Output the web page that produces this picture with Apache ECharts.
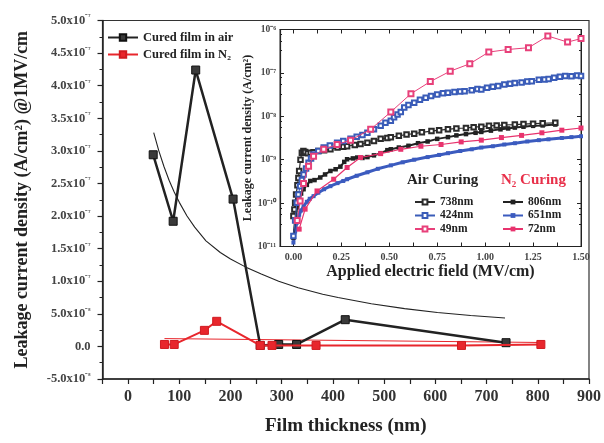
<!DOCTYPE html>
<html><head><meta charset="utf-8">
<script src="https://cdn.jsdelivr.net/npm/echarts@6/dist/echarts.min.js"></script>
<style>html,body{margin:0;padding:0;background:#fff}#c{width:604px;height:443px}</style>
</head><body><div id="c"></div>
<script>
// ---- main chart data (leakage @1MV/cm vs film thickness) ----
const airThickness = [49, 88, 132, 205, 258, 294, 329, 424, 738];
const airLeakage   = [2.94e-7, 1.92e-7, 4.24e-7, 2.26e-7, 0.15e-8, 0.3e-8, 0.3e-8, 4.1e-8, 0.57e-8];
const n2Thickness  = [71, 90, 149, 173, 258, 281, 367, 651, 806];
const n2Leakage    = [0.3e-8, 0.3e-8, 2.46e-8, 3.85e-8, 0.15e-8, 0.15e-8, 0.15e-8, 0.15e-8, 0.3e-8];
const airFitThickness = [50, 60, 70, 80, 90, 100, 115, 130, 152, 180, 200, 229, 260, 294, 332, 380, 410, 475, 540, 604, 669, 736];
const airFitLeakage   = [3.28e-7, 3.0e-7, 2.76e-7, 2.55e-7, 2.37e-7, 2.21e-7, 2.0e-7, 1.83e-7, 1.62e-7, 1.44e-7, 1.34e-7, 1.22e-7, 1.11e-7, 1.0e-7, 0.9e-7, 0.8e-7, 0.75e-7, 0.655e-7, 0.58e-7, 0.52e-7, 0.475e-7, 0.435e-7];
const n2FitThickness = [71, 806];
const n2FitLeakage   = [1.2e-8, 0.6e-8];
const mainXTicks = [0, 100, 200, 300, 400, 500, 600, 700, 800, 900];

// ---- inset data: applied field (MV/cm) and log10 of leakage (A/cm2) ----
const f738 = [0,0.005,0.009,0.014,0.021,0.026,0.03,0.037,0.044,0.052,0.061,0.075,0.09,0.105,0.13,0.16,0.193,0.23,0.26,0.28,0.32,0.35,0.386,0.42,0.455,0.49,0.508,0.55,0.59,0.63,0.67,0.72,0.76,0.806,0.85,0.9,0.94,0.98,1.02,1.06,1.1,1.155,1.2,1.25,1.3,1.366];
const lg738 = [-10.3,-10.15,-9.99,-9.8,-9.59,-9.42,-9.26,-9.0,-8.84,-8.8,-8.82,-8.85,-8.84,-8.83,-8.8,-8.78,-8.76,-8.72,-8.7,-8.69,-8.66,-8.64,-8.61,-8.57,-8.52,-8.5,-8.48,-8.45,-8.42,-8.4,-8.37,-8.34,-8.32,-8.3,-8.28,-8.27,-8.25,-8.24,-8.22,-8.21,-8.2,-8.19,-8.18,-8.17,-8.16,-8.15];
const f424 = [0,0.009,0.018,0.026,0.035,0.044,0.053,0.066,0.079,0.092,0.105,0.13,0.158,0.19,0.228,0.26,0.298,0.33,0.36,0.386,0.42,0.455,0.48,0.508,0.525,0.543,0.56,0.578,0.6,0.63,0.66,0.69,0.718,0.75,0.78,0.806,0.84,0.87,0.893,0.93,0.96,0.98,1.01,1.04,1.068,1.1,1.13,1.155,1.19,1.22,1.243,1.28,1.31,1.331,1.36,1.39,1.418,1.45,1.48,1.5];
const lg424 = [-10.76,-10.4,-9.99,-9.8,-9.61,-9.47,-9.34,-9.2,-9.07,-8.97,-8.88,-8.8,-8.72,-8.67,-8.61,-8.57,-8.52,-8.47,-8.43,-8.38,-8.3,-8.22,-8.15,-8.1,-8.02,-7.96,-7.9,-7.8,-7.74,-7.69,-7.62,-7.57,-7.53,-7.5,-7.47,-7.46,-7.44,-7.43,-7.42,-7.4,-7.37,-7.38,-7.34,-7.32,-7.3,-7.27,-7.25,-7.23,-7.22,-7.2,-7.19,-7.16,-7.15,-7.14,-7.11,-7.09,-7.07,-7.08,-7.06,-7.07];
const f49 = [0.02,0.035,0.053,0.079,0.105,0.158,0.228,0.298,0.403,0.508,0.613,0.714,0.818,0.92,1.019,1.12,1.226,1.327,1.43,1.5];
const lg49 = [-10.4,-9.95,-9.55,-9.15,-8.92,-8.76,-8.65,-8.55,-8.3,-7.9,-7.48,-7.2,-6.96,-6.79,-6.52,-6.46,-6.42,-6.15,-6.29,-6.21];
const f806 = [0,0.009,0.018,0.026,0.04,0.053,0.07,0.088,0.11,0.14,0.165,0.193,0.22,0.245,0.265,0.28,0.31,0.333,0.36,0.386,0.42,0.455,0.49,0.508,0.55,0.6,0.65,0.7,0.75,0.806,0.85,0.9,0.95,0.98,1.03,1.08,1.12,1.155,1.2,1.25,1.3,1.366];
const lg806 = [-10.8,-10.37,-10.1,-9.91,-9.78,-9.68,-9.58,-9.49,-9.47,-9.41,-9.34,-9.26,-9.22,-9.16,-9.05,-8.99,-8.97,-8.95,-8.96,-8.94,-8.9,-8.85,-8.78,-8.76,-8.72,-8.68,-8.62,-8.58,-8.52,-8.48,-8.44,-8.41,-8.38,-8.36,-8.33,-8.3,-8.28,-8.26,-8.24,-8.22,-8.21,-8.19];
const f651 = [0,0.009,0.018,0.03,0.04,0.053,0.07,0.085,0.105,0.13,0.16,0.193,0.23,0.26,0.28,0.33,0.386,0.44,0.508,0.57,0.63,0.7,0.76,0.806,0.87,0.93,0.98,1.04,1.1,1.155,1.22,1.28,1.33,1.4,1.45,1.5];
const lg651 = [-10.91,-10.65,-10.45,-10.27,-10.17,-10.07,-9.97,-9.9,-9.84,-9.76,-9.68,-9.61,-9.54,-9.49,-9.45,-9.37,-9.29,-9.21,-9.13,-9.06,-9.0,-8.94,-8.89,-8.85,-8.8,-8.76,-8.72,-8.69,-8.65,-8.62,-8.58,-8.55,-8.53,-8.5,-8.48,-8.46];
const f72 = [0.03,0.061,0.123,0.21,0.28,0.35,0.455,0.56,0.665,0.77,0.875,0.98,1.085,1.19,1.296,1.4,1.5];
const lg72 = [-10.6,-10.14,-9.72,-9.45,-9.18,-8.95,-8.86,-8.76,-8.69,-8.65,-8.59,-8.55,-8.49,-8.44,-8.38,-8.32,-8.27];
const insetXLabels = [0, 0.25, 0.5, 0.75, 1.0, 1.25, 1.5];
const insetXTicks = [0, 0.125, 0.25, 0.375, 0.5, 0.625, 0.75, 0.875, 1.0, 1.125, 1.25, 1.375, 1.5];

const zip = (a, b) => a.map((v, i) => [v, b[i]]);
const zipLog = (a, b) => a.map((v, i) => [v, Math.pow(10, b[i])]);

const SERIF = '"Liberation Serif", "Times New Roman", serif';
const SUP = {'-':'⁻','0':'⁰','1':'¹','2':'²','3':'³','4':'⁴','5':'⁵','6':'⁶','7':'⁷','8':'⁸','9':'⁹'};
const sup = s => String(s).split('').map(c => SUP[c] || c).join('');

function fmtMain(v) {
  const n = Math.round(v / 1e-8);
  if (n === 0) return '0.0';
  if (Math.abs(n) < 10) return '{m|' + n.toFixed(1) + 'x10}{s|' + sup(-8) + '}';
  return '{m|' + (n / 10).toFixed(1) + 'x10}{s|' + sup(-7) + '}';
}

const chart = echarts.init(document.getElementById('c'), null, {renderer: 'canvas'});
const axisCol = '#222';
const option = {
  animation: false,
  backgroundColor: '#fff',
  textStyle: {fontFamily: SERIF},
  grid: [
    {left: 102.5, right: 11, top: 20.5, bottom: 64, show: true, borderColor: '#333', borderWidth: 1.2, backgroundColor: 'transparent'},
    {left: 280, right: 23, top: 29.5, bottom: 196.5, show: true, borderColor: '#333', borderWidth: 1, backgroundColor: '#fff'}
  ],
  legend: [
    {data: ['Cured film in air', 'Cured film in N₂'], orient: 'vertical', left: 102, top: 26, itemWidth: 30, itemHeight: 8, itemGap: 4,
     textStyle: {fontFamily: SERIF, fontWeight: 'bold', fontSize: 12.5, color: '#222'}},
    {data: ['738nm', '424nm', '49nm'], orient: 'vertical', left: 409, top: 191, itemWidth: 20, itemHeight: 6, itemGap: 1.5,
     textStyle: {fontFamily: SERIF, fontWeight: 'bold', fontSize: 11.5, color: '#222', lineHeight: 12}},
    {data: ['806nm', '651nm', '72nm'], orient: 'vertical', left: 497, top: 191, itemWidth: 20, itemHeight: 6, itemGap: 1.5,
     textStyle: {fontFamily: SERIF, fontWeight: 'bold', fontSize: 11.5, color: '#222', lineHeight: 12}}
  ],
  graphic: [
    {type: 'text', left: 407, top: 173, z: 100, style: {text: 'Air Curing', font: 'bold 15px ' + SERIF, fill: '#222'}},
    {type: 'text', left: 501, top: 173, z: 100, style: {text: 'N₂ Curing', font: 'bold 15px ' + SERIF, fill: '#e8304a'}}
  ],
  xAxis: [
    {gridIndex: 0, type: 'value', min: -50, max: 900, interval: 50,
     axisLine: {show: true, onZero: false, lineStyle: {color: axisCol, width: 1.5}},
     axisTick: {show: true, length: 5, lineStyle: {color: axisCol, width: 1.2}},
     axisLabel: {margin: 10, fontSize: 16, fontWeight: 'bold', color: '#333', fontFamily: SERIF,
       formatter: v => (mainXTicks.indexOf(Math.round(v)) >= 0 ? String(Math.round(v)) : '')},
     splitLine: {show: false},
     name: 'Film thickness (nm)', nameLocation: 'middle', nameGap: 38,
     nameTextStyle: {fontSize: 19, fontWeight: 'bold', color: '#222', fontFamily: SERIF}},
    {gridIndex: 1, type: 'value', min: -0.07, max: 1.5,
     axisLine: {show: true, onZero: false, lineStyle: {color: axisCol, width: 1.2}},
     axisTick: {show: true, inside: true, length: 4, customValues: insetXTicks, lineStyle: {color: axisCol}},
     axisLabel: {margin: 6, fontSize: 10, fontWeight: 'bold', color: '#444', fontFamily: SERIF, customValues: insetXLabels,
       formatter: v => (v < -0.001 ? '' : v.toFixed(2))},
     splitLine: {show: false},
     name: 'Applied electric field (MV/cm)', nameLocation: 'middle', nameGap: 17,
     nameTextStyle: {fontSize: 16, fontWeight: 'bold', color: '#222', fontFamily: SERIF}},
    {gridIndex: 1, type: 'value', min: -0.07, max: 1.5, position: 'top',
     axisLine: {show: true, onZero: false, lineStyle: {color: axisCol, width: 1}},
     axisTick: {show: true, inside: true, length: 4, customValues: insetXTicks, lineStyle: {color: axisCol}},
     axisLabel: {show: false}, splitLine: {show: false}}
  ],
  yAxis: [
    {gridIndex: 0, type: 'value', min: -5e-8, max: 5e-7, interval: 5e-8,
     axisLine: {show: true, onZero: false, lineStyle: {color: axisCol, width: 1.5}},
     axisTick: {show: true, length: 5, lineStyle: {color: axisCol, width: 1.2}},
     minorTick: {show: true, splitNumber: 2, length: 3, lineStyle: {color: axisCol}},
     axisLabel: {margin: 12, formatter: fmtMain, color: '#444', fontFamily: SERIF, fontWeight: 'bold', fontSize: 12.5,
       rich: {m: {fontSize: 12.5, fontWeight: 'bold', fontFamily: SERIF, color: '#444'},
              s: {fontSize: 7.5, fontWeight: 'bold', fontFamily: SERIF, color: '#444', verticalAlign: 'top', padding: [0, 0, 6, 0]}}},
     splitLine: {show: false},
     name: 'Leakage current density (A/cm²) @1MV/cm', nameLocation: 'middle', nameGap: 71,
     nameTextStyle: {fontSize: 18, fontWeight: 'bold', color: '#222', fontFamily: SERIF}},
    {gridIndex: 1, type: 'log', logBase: 10, min: 1e-11, max: 1e-6,
     axisLine: {show: true, onZero: false, lineStyle: {color: axisCol, width: 1.2}},
     axisTick: {show: true, inside: true, length: 4, lineStyle: {color: axisCol}},
     minorTick: {show: true, splitNumber: 4, length: 2, lineStyle: {color: axisCol}},
     axisLabel: {margin: 4, fontSize: 9.5, fontWeight: 'bold', color: '#444', fontFamily: SERIF,
       formatter: v => '10' + sup(Math.round(Math.log10(v)))},
     splitLine: {show: false},
     name: 'Leakage current density (A/cm²)', nameLocation: 'middle', nameGap: 19,
     nameTextStyle: {fontSize: 12, fontWeight: 'bold', color: '#222', fontFamily: SERIF}},
    {gridIndex: 1, type: 'log', logBase: 10, min: 1e-11, max: 1e-6, position: 'right',
     axisLine: {show: true, onZero: false, lineStyle: {color: axisCol, width: 1}},
     axisTick: {show: true, inside: true, length: 4, lineStyle: {color: axisCol}},
     minorTick: {show: true, splitNumber: 4, length: 2, lineStyle: {color: axisCol}},
     axisLabel: {show: false}, splitLine: {show: false}}
  ],
  series: [
    {name: 'airFit', type: 'line', xAxisIndex: 0, yAxisIndex: 0, data: zip(airFitThickness, airFitLeakage), smooth: false,
     symbol: 'none', lineStyle: {color: '#222', width: 1.1}, z: 2, silent: true},
    {name: 'n2Fit', type: 'line', xAxisIndex: 0, yAxisIndex: 0, data: zip(n2FitThickness, n2FitLeakage),
     symbol: 'none', lineStyle: {color: '#e8262c', width: 1}, z: 2, silent: true},
    {name: 'Cured film in air', type: 'line', xAxisIndex: 0, yAxisIndex: 0, data: zip(airThickness, airLeakage),
     symbol: 'rect', symbolSize: 8, lineStyle: {color: '#222', width: 2.5},
     itemStyle: {color: '#3a3a3a', borderColor: '#111', borderWidth: 1}, z: 3},
    {name: 'Cured film in N₂', type: 'line', xAxisIndex: 0, yAxisIndex: 0, data: zip(n2Thickness, n2Leakage),
     symbol: 'rect', symbolSize: 8, lineStyle: {color: '#e8262c', width: 2},
     itemStyle: {color: '#e8262c', borderColor: '#d01a20', borderWidth: 1}, z: 4},
    {name: '651nm', type: 'line', xAxisIndex: 1, yAxisIndex: 1, data: zipLog(f651, lg651),
     symbol: 'rect', symbolSize: 4, lineStyle: {color: '#3b5bbf', width: 3}, itemStyle: {color: '#3b5bbf'}, z: 10},
    {name: '806nm', type: 'line', xAxisIndex: 1, yAxisIndex: 1, data: zipLog(f806, lg806),
     symbol: 'rect', symbolSize: 4.5, lineStyle: {color: '#222', width: 2}, itemStyle: {color: '#222'}, z: 11},
    {name: '72nm', type: 'line', xAxisIndex: 1, yAxisIndex: 1, data: zipLog(f72, lg72),
     symbol: 'rect', symbolSize: 5, lineStyle: {color: '#e8336e', width: 1.2}, itemStyle: {color: '#e8336e'}, z: 12},
    {name: '738nm', type: 'line', xAxisIndex: 1, yAxisIndex: 1, data: zipLog(f738, lg738),
     symbol: 'emptyRect', symbolSize: 4.5, lineStyle: {color: '#2b2b2b', width: 1.2}, itemStyle: {color: '#2b2b2b', borderWidth: 1}, z: 13},
    {name: '424nm', type: 'line', xAxisIndex: 1, yAxisIndex: 1, data: zipLog(f424, lg424),
     symbol: 'emptyRect', symbolSize: 4.5, lineStyle: {color: '#3a5cb8', width: 1}, itemStyle: {color: '#3a5cb8', borderWidth: 1}, z: 14},
    {name: '49nm', type: 'line', xAxisIndex: 1, yAxisIndex: 1, data: zipLog(f49, lg49),
     symbol: 'emptyRect', symbolSize: 5, lineStyle: {color: '#e8407a', width: 1}, itemStyle: {color: '#e8407a', borderWidth: 1}, z: 15}
  ]
};
chart.setOption(option);
</script>
</body></html>
